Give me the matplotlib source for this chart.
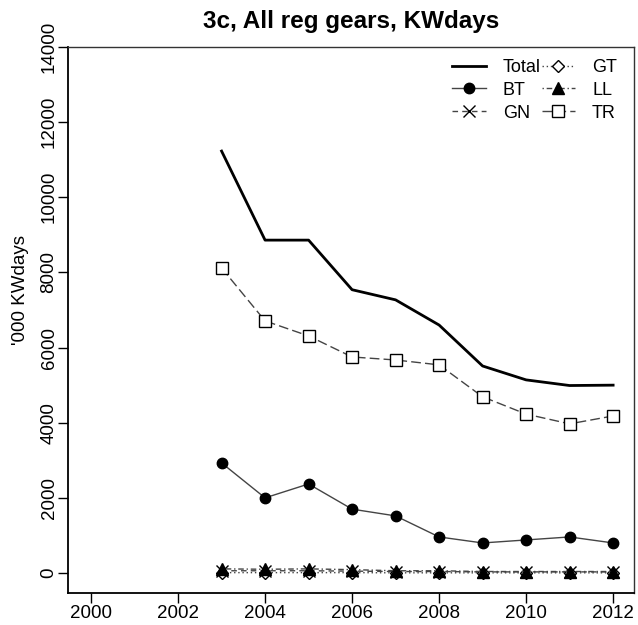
import matplotlib
matplotlib.use("Agg")
import matplotlib.pyplot as plt

plt.rcParams['font.family'] = ['Liberation Sans', 'DejaVu Sans']

years = [2003, 2004, 2005, 2006, 2007, 2008, 2009, 2010, 2011, 2012]
total = [11230, 8860, 8860, 7540, 7270, 6600, 5510, 5140, 4990, 5000]
bt = [2930, 2000, 2370, 1700, 1520, 960, 800, 880, 960, 800]
gn = [60, 60, 60, 50, 40, 40, 30, 30, 30, 30]
gt = [10, 10, 10, 10, 5, 5, 5, 5, 5, 5]
ll = [110, 100, 110, 90, 60, 60, 40, 40, 40, 40]
tr = [8120, 6710, 6310, 5750, 5670, 5540, 4690, 4230, 3970, 4180]

xticks = [2000, 2002, 2004, 2006, 2008, 2010, 2012]
yticks = [0, 2000, 4000, 6000, 8000, 10000, 12000, 14000]

W, H = 638, 625
fig = plt.figure(figsize=(W / 100, H / 100), dpi=100)
# plot region in pixels: x 68..634, y 47..593
ax = fig.add_axes([68 / W, (H - 593) / H, 566 / W, 546 / H])

# series drawn like R type="b"
ax.plot(years, total, color='black', lw=2, label='Total')
ax.plot(years, bt, color='#444444', lw=1, marker='o', ms=7.5,
        mfc='black', mec='black', label='BT')
ax.plot(years, gn, color='#444444', lw=1, ls=(0, (4, 3)), marker='x', ms=8,
        mec='black', mew=1, label='GN')
ax.plot(years, gt, color='#444444', lw=1, ls=(0, (1, 2)), marker='D', ms=6.5,
        mfc='white', mec='black', mew=1, label='GT')
ax.plot(years, ll, color='#444444', lw=1, ls=(0, (1, 2, 4, 2)), marker='^', ms=8,
        mfc='black', mec='black', label='LL')
ax.plot(years, tr, color='#444444', lw=1, ls=(0, (7, 3)), marker='s', ms=8.5,
        mfc='white', mec='black', mew=1, label='TR')

ax.set_xlim(1999.47, 2012.48)
ax.set_ylim(-532, 14000)
ax.set_xticks(xticks)
ax.set_yticks(yticks)
ax.set_yticklabels([str(v) for v in yticks], rotation=90, va='center')
ax.tick_params(axis='both', labelsize=13.5, length=7, width=1, direction='out')
ax.tick_params(axis='x', pad=1.5)
ax.tick_params(axis='y', pad=0.5)

for s in ['top', 'right']:
    ax.spines[s].set_linewidth(1)
    ax.spines[s].set_color('#333333')
for s in ['left', 'bottom']:
    ax.spines[s].set_linewidth(1.3)

ax.set_ylabel("'000 KWdays", fontsize=13.5)
ax.yaxis.set_label_coords((29 - 68) / 566, (593 - 290) / 546)
ax.set_title("3c, All reg gears, KWdays", fontsize=17.5, fontweight='bold', pad=14)

leg = ax.legend(ncol=2, loc='upper right', frameon=False, fontsize=13,
                handlelength=1.85, handletextpad=0.95, columnspacing=0.05,
                labelspacing=0.32, borderaxespad=0, borderpad=0,
                bbox_to_anchor=((617 - 68) / 566, (593 - 59) / 546))

fig.savefig("out.png", dpi=100)
